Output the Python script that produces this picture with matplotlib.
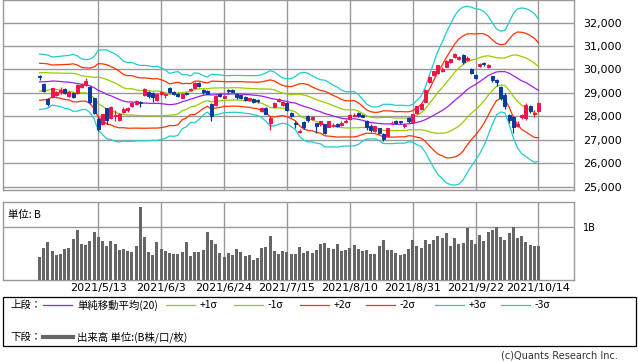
import numpy as np
import matplotlib
matplotlib.use('Agg')
import matplotlib.pyplot as plt
from matplotlib.lines import Line2D
from matplotlib.patches import Rectangle

plt.rcParams['font.family'] = ['DejaVu Sans', 'Noto Sans CJK JP']

# 営業日 (2021)
dates = ['4/19', '4/20', '4/21', '4/22', '4/23', '4/26', '4/27', '4/28', '4/30',
         '5/6', '5/7', '5/10', '5/11', '5/12', '5/13', '5/14', '5/17', '5/18', '5/19', '5/20',
         '5/21', '5/24', '5/25', '5/26', '5/27', '5/28', '5/31',
         '6/1', '6/2', '6/3', '6/4', '6/7', '6/8', '6/9', '6/10', '6/11', '6/14', '6/15',
         '6/16', '6/17', '6/18', '6/21', '6/22', '6/23', '6/24', '6/25', '6/28', '6/29', '6/30',
         '7/1', '7/2', '7/5', '7/6', '7/7', '7/8', '7/9', '7/12', '7/13', '7/14', '7/15',
         '7/16', '7/19', '7/20', '7/21', '7/26', '7/27', '7/28', '7/29', '7/30',
         '8/2', '8/3', '8/4', '8/5', '8/6', '8/10', '8/11', '8/12', '8/13', '8/16', '8/17',
         '8/18', '8/19', '8/20', '8/23', '8/24', '8/25', '8/26', '8/27', '8/30', '8/31',
         '9/1', '9/2', '9/3', '9/6', '9/7', '9/8', '9/9', '9/10', '9/13', '9/14', '9/15',
         '9/16', '9/17', '9/21', '9/22', '9/24', '9/27', '9/28', '9/29', '9/30',
         '10/1', '10/4', '10/5', '10/6', '10/7', '10/8', '10/11', '10/12', '10/13', '10/14']
tick_labels = ['2021/5/13', '2021/6/3', '2021/6/24', '2021/7/15',
               '2021/8/10', '2021/8/31', '2021/9/22', '2021/10/14']

open_ = [29700, 29370, 28740, 28810, 28910, 29050, 29180, 28880, 28980,
         28980, 29240, 29330, 29260, 28760, 27900, 27670, 28340, 27910, 28000, 27840,
         28200, 28250, 28420, 28530, 28620, 28900, 29050,
         29000, 28700, 28950, 28900, 29200, 29050, 28950, 28800, 29000, 29120, 29220,
         29400, 29120, 29100, 28510, 28480, 28950, 28800, 29120, 29120, 28950, 28900,
         28810, 28700, 28720, 28700, 28240, 28340, 27700, 28410, 28650, 28480, 28550,
         28150, 27700, 27330, 27770, 28010, 27880, 27700, 27650, 27660,
         27560, 27600, 27650, 27630, 27740, 27900, 28000, 28150, 28050, 27810, 27600,
         27370, 27480, 27250, 27170, 27700, 27800, 27780, 27600, 27930, 27770,
         28130, 28300, 28620, 29450, 29750, 29830, 29950, 30120, 30300, 30540, 30450,
         30610, 30400, 30000, 29780, 30150, 30280, 30100, 29700, 29550,
         29250, 28900, 28050, 27950, 27590, 27960, 27920, 28450, 28100, 28240]
high = [29780, 29420, 28800, 29220, 29100, 29260, 29200, 29100, 29040,
        29360, 29420, 29640, 29280, 28800, 27950, 28100, 28370, 28440, 28250, 28150,
        28380, 28400, 28600, 28700, 28660, 29200, 29100,
        29050, 29000, 29100, 29000, 29250, 29100, 28990, 28990, 29050, 29200, 29480,
        29460, 29150, 29130, 28560, 28900, 28990, 28920, 29150, 29160, 28980, 28920,
        28850, 28800, 28760, 28750, 28400, 28380, 28000, 28620, 28800, 28650, 28600,
        28200, 27820, 27450, 27800, 28050, 28020, 27720, 27800, 27680,
        27820, 27700, 27700, 27780, 27880, 28100, 28150, 28200, 28100, 27830, 27650,
        27600, 27500, 27270, 27520, 27800, 27830, 27800, 27700, 27960, 28100,
        28460, 28560, 29150, 29700, 29950, 30200, 30100, 30400, 30460, 30720, 30560,
        30640, 30560, 30050, 29800, 30280, 30300, 30220, 29720, 29600,
        29300, 29000, 28100, 28000, 27800, 28100, 28550, 28480, 28250, 28600]
low = [29560, 29040, 28420, 28780, 28880, 28960, 28950, 28840, 28760,
       28950, 29210, 29300, 28510, 28100, 27385, 27640, 27650, 27880, 27800, 27800,
       28150, 28200, 28380, 28480, 28400, 28850, 28800,
       28600, 28650, 28900, 28800, 28980, 28900, 28820, 28770, 28900, 29080, 29200,
       29250, 28950, 28940, 27795, 28450, 28820, 28760, 29000, 29020, 28750, 28750,
       28650, 28650, 28560, 28560, 28200, 28100, 27420, 28380, 28620, 28450, 28240,
       27950, 27500, 27270, 27450, 27770, 27850, 27300, 27600, 27240,
       27540, 27560, 27550, 27600, 27700, 27870, 27980, 27980, 27950, 27400, 27350,
       27340, 27250, 26954, 27150, 27650, 27690, 27680, 27500, 27730, 27740,
       28100, 28280, 28600, 29420, 29700, 29800, 29900, 30100, 30270, 30500, 30400,
       30250, 30350, 29800, 29580, 30120, 30150, 30060, 29450, 29300,
       28700, 28300, 27700, 27300, 27550, 27900, 27850, 28150, 27950, 28200]
close = [29685, 29100, 28508, 29188, 29020, 29126, 28991, 29053, 28812,
         29331, 29357, 29518, 28608, 28147, 27448, 28084, 27824, 28406, 28044, 28098,
         28317, 28364, 28553, 28642, 28549, 29149, 28860,
         28814, 28946, 29058, 28941, 29019, 28963, 28860, 28958, 28948, 29161, 29441,
         29291, 29018, 28964, 28010, 28884, 28874, 28875, 29066, 29048, 28812, 28791,
         28707, 28783, 28598, 28643, 28366, 28118, 27940, 28569, 28718, 28608, 28279,
         28003, 27652, 27388, 27548, 27833, 27970, 27581, 27782, 27283,
         27781, 27641, 27584, 27728, 27820, 28070, 28070, 28015, 27977, 27523, 27424,
         27585, 27281, 27013, 27494, 27732, 27724, 27742, 27641, 27789, 28089,
         28451, 28543, 29128, 29659, 29916, 30181, 30008, 30381, 30447, 30670, 30511,
         30323, 30500, 29839, 29639, 30248, 30240, 30183, 29544, 29452,
         28771, 28444, 27822, 27528, 27678, 28048, 28498, 28230, 28140, 28550]
# 表示期間前の終値 (移動平均の計算用)
prior_close = [28995, 28405, 28729, 29176, 29384, 29432, 29178, 29388, 29854, 30089,
               29696, 29730, 29708, 29768, 29538, 29751, 29620, 29642, 29683]

volume = [0.44, 0.61, 0.72, 0.55, 0.47, 0.49, 0.59, 0.61, 0.78, 0.95,
          0.68, 0.66, 0.74, 0.91, 0.82, 0.74, 0.65, 0.74, 0.68, 0.57,
          0.59, 0.55, 0.53, 0.65, 1.39, 0.82, 0.53, 0.47, 0.72, 0.59,
          0.55, 0.51, 0.49, 0.49, 0.53, 0.72, 0.46, 0.53, 0.53, 0.57,
          0.91, 0.76, 0.68, 0.51, 0.44, 0.51, 0.47, 0.59, 0.53, 0.46,
          0.47, 0.38, 0.42, 0.61, 0.63, 0.84, 0.55, 0.49, 0.55, 0.53,
          0.49, 0.49, 0.63, 0.51, 0.55, 0.51, 0.57,
          0.68, 0.70, 0.61, 0.59, 0.68, 0.55, 0.57, 0.61, 0.66, 0.59,
          0.55, 0.57, 0.49, 0.49, 0.65, 0.76, 0.57, 0.57, 0.51, 0.47,
          0.49, 0.59, 0.76, 0.65, 0.61, 0.76, 0.68, 0.76, 0.84, 0.80,
          0.89, 0.65, 0.80, 0.68, 0.70, 0.99, 0.76, 0.68, 0.85, 0.74,
          0.91, 0.95, 1.01, 0.82, 0.76, 0.89, 1.01, 0.80, 0.84, 0.72,
          0.66, 0.65, 0.65]

W, H = 638, 362
GRID = '#999999'
UP, DOWN = '#f0144b', '#0b3a9c'
C_MID, C_1, C_2, C_3 = '#9f1ff0', '#99cc00', '#ff3300', '#22cccc'


def fx(px):
    return px / W


def fy(py):
    return 1 - py / H


fig = plt.figure(figsize=(W / 100, H / 100), dpi=100)
ax = fig.add_axes([fx(3), fy(190), (574 - 3) / W, 190 / H])
axv = fig.add_axes([fx(3), fy(280), (574 - 3) / W, (280 - 202) / H])

x = np.arange(len(close))
o, h, l, c = map(np.array, (open_, high, low, close))

# ボリンジャーバンド
allc = np.array(prior_close + close, dtype=float)
win = np.lib.stride_tricks.sliding_window_view(allc, 20)
mid = win.mean(axis=1)
sd = win.std(axis=1)
ax.plot(x, mid, color=C_MID, lw=0.9, zorder=2)
for k, col in ((1, C_1), (2, C_2), (3, C_3)):
    ax.plot(x, mid + k * sd, color=col, lw=0.9, zorder=2)
    ax.plot(x, mid - k * sd, color=col, lw=0.9, zorder=2)

# ローソク足
cols = np.where(c >= o, UP, DOWN)
ax.vlines(x, l, h, colors=cols, lw=0.9, zorder=3)
ax.bar(x, np.abs(c - o), bottom=np.minimum(o, c), width=0.72,
       color=cols, edgecolor=cols, linewidth=0.7, zorder=4)

# 出来高
axv.bar(x, volume, width=0.72, color='#666666', zorder=3)

tick_pos = [dates.index(t[5:]) for t in tick_labels]
for a in (ax, axv):
    a.set_xlim(-8.73, 127.47)
    a.set_xticks(tick_pos)
    a.grid(True, color=GRID, lw=1)
    a.set_axisbelow(True)
    for s in a.spines.values():
        s.set_color(GRID)
        s.set_linewidth(1)
    a.tick_params(length=0)
    a.yaxis.tick_right()

ax.set_ylim(24854, 32964)
ax.set_yticks(range(25000, 32001, 1000))
ax.set_yticklabels([f'{v:,}' for v in range(25000, 32001, 1000)], fontsize=8)
ax.tick_params(axis='y', pad=6.5)
ax.set_xticklabels([])

axv.set_ylim(0, 1.48)
axv.set_yticks([1])
axv.set_yticklabels(['1B'], fontsize=7)
axv.tick_params(axis='y', pad=6.5)
axv.set_xticklabels(tick_labels, fontsize=8)
axv.tick_params(axis='x', pad=2)
axv.text(0.008, 0.9, '単位: B', transform=axv.transAxes, fontsize=7.5,
         va='top', family=['Noto Sans CJK JP', 'DejaVu Sans'])

# 凡例
jp = ['Noto Sans CJK JP', 'DejaVu Sans']
fig.patches.append(Rectangle((fx(3), fy(346)), (636 - 3) / W, (346 - 297) / H,
                             transform=fig.transFigure, fill=False,
                             edgecolor='black', lw=0.9))
row1, row2 = fy(305), fy(337)
fig.text(fx(10), row1, '上段：', fontsize=7.5, va='center', family=jp)
items = [(43, C_MID, '単純移動平均(20)'), (166, C_1, '+1σ'), (234, C_1, '-1σ'),
         (300, C_2, '+2σ'), (366, C_2, '-2σ'), (435, C_3, '+3σ'), (501, C_3, '-3σ')]
for x0, col, lab in items:
    fig.lines.append(Line2D([fx(x0), fx(x0 + 29)], [row1, row1], color=col, lw=0.9,
                            transform=fig.transFigure))
    fig.text(fx(x0 + 34), row1, lab, fontsize=7.5, va='center', family=jp)
fig.text(fx(10), row2, '下段：', fontsize=7.5, va='center', family=jp)
fig.lines.append(Line2D([fx(43), fx(73)], [row2, row2], color='#666666', lw=3,
                        transform=fig.transFigure))
fig.text(fx(77), row2, '出来高 単位:(B株/口/枚)', fontsize=7.5, va='center', family=jp)

fig.text(fx(618), fy(356), '(c)Quants Research Inc.', fontsize=7, ha='right',
         va='center', color='#333333')

fig.savefig('out.png', dpi=100)
